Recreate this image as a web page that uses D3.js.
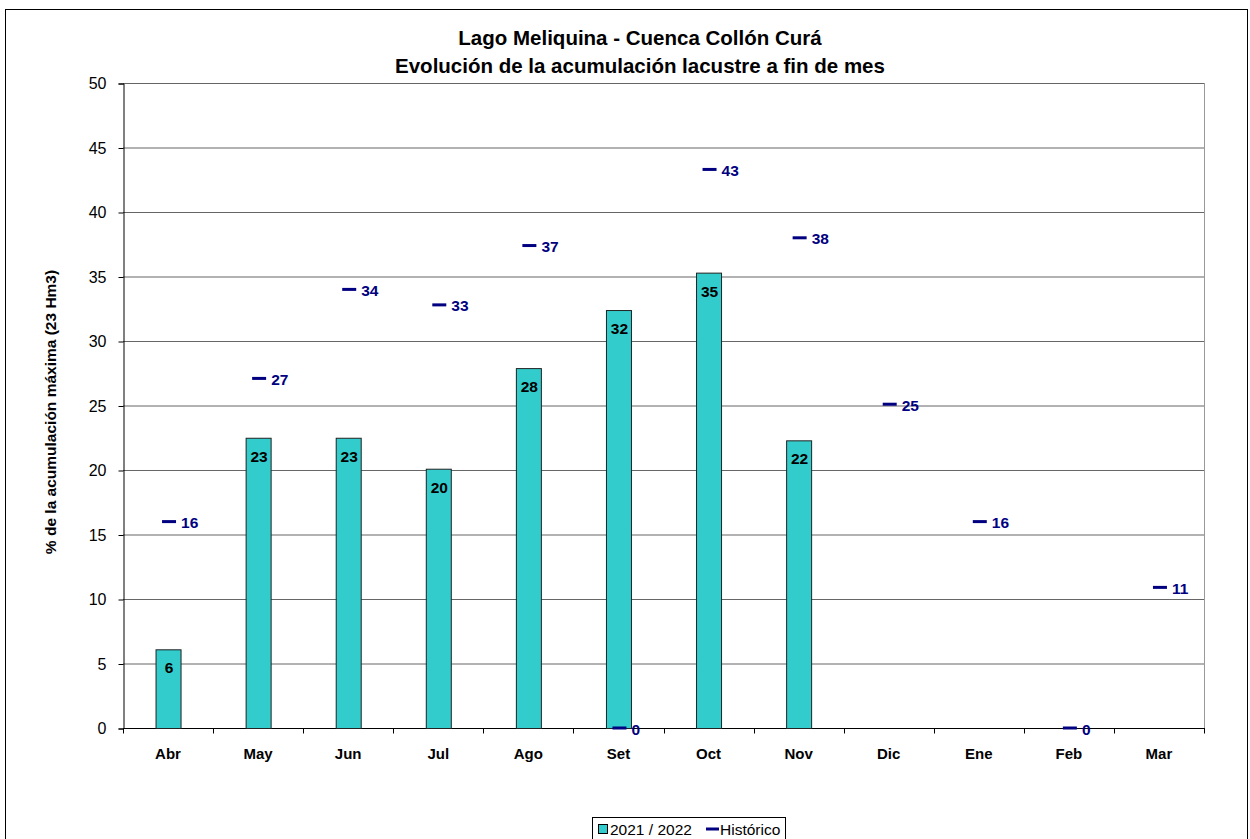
<!DOCTYPE html>
<html><head><meta charset="utf-8">
<script src="https://cdn.jsdelivr.net/npm/d3@7"></script>
<style>body{margin:0;background:#fff}svg{display:block}text{font-family:"Liberation Sans",Arial,sans-serif}</style>
</head><body>
<script>
const months = ["Abr","May","Jun","Jul","Ago","Set","Oct","Nov","Dic","Ene","Feb","Mar"];
const current = [6.1, 22.5, 22.5, 20.1, 27.9, 32.4, 35.3, 22.3, null, null, null, null];
const historico = [16.0, 27.1, 34.0, 32.8, 37.4, 0, 43.3, 38.0, 25.1, 16.0, 0, 10.9];
const yTicks = [0,5,10,15,20,25,30,35,40,45,50];
const titleLines = ["Lago Meliquina - Cuenca Collón Curá","Evolución de la acumulación lacustre a fin de mes"];
const yLabel = "% de la acumulación máxima (23 Hm3)";
const seriesNames = ["2021 / 2022","Histórico"];

const W=1250,H=839;
const svg=d3.select("body").append("svg").attr("width",W).attr("height",H);
svg.append("rect").attr("x",5.5).attr("y",9.5).attr("width",1242).attr("height",840).attr("fill","#fff").attr("stroke","#000").attr("stroke-width",1);

const L=123,R=1204,T=83,B=728;
const x=d3.scaleBand().domain(months).range([L,R]);
const y=d3.scaleLinear().domain([0,50]).range([B,T]);

// gridlines
svg.append("g").selectAll("line").data(yTicks.filter(d=>d>0)).join("line")
  .attr("x1",L).attr("x2",R).attr("y1",d=>y(d)+0.5).attr("y2",d=>y(d)+0.5)
  .attr("stroke","#666").attr("stroke-width",1.2);
// right border of plot
svg.append("line").attr("x1",R+0.5).attr("x2",R+0.5).attr("y1",T).attr("y2",B).attr("stroke","#999");

// y axis
const ya=svg.append("g").attr("transform",`translate(${L+0.5},0.5)`)
  .call(d3.axisLeft(y).tickValues(yTicks).tickSize(5).tickPadding(12));
ya.select(".domain").attr("stroke","#000");
ya.selectAll(".tick line").attr("stroke","#000");
ya.selectAll("text").attr("font-size",16).attr("fill","#000").attr("font-family","Liberation Sans, Arial, sans-serif");

// x axis
const xa=svg.append("g").attr("transform",`translate(0,${B+0.5})`);
xa.append("line").attr("x1",L).attr("x2",R+1).attr("stroke","#000");
const bounds=months.map(m=>x(m)).concat([R]);
xa.selectAll(".tk").data(bounds).join("line").attr("class","tk")
  .attr("x1",d=>Math.round(d)+0.5).attr("x2",d=>Math.round(d)+0.5).attr("y1",0).attr("y2",5).attr("stroke","#000");
xa.selectAll(".lbl").data(months).join("text").attr("class","lbl")
  .attr("x",d=>x(d)+x.bandwidth()/2).attr("y",30).attr("text-anchor","middle")
  .attr("font-size",15).attr("font-weight","bold").text(d=>d);

// bars
const bw=25;
const bars=months.map((m,i)=>({m,v:current[i]})).filter(d=>d.v!=null);
svg.append("g").selectAll("rect").data(bars).join("rect")
  .attr("x",d=>x(d.m)+x.bandwidth()/2-bw/2+0.5).attr("y",d=>y(d.v)+0.5)
  .attr("width",bw).attr("height",d=>B-y(d.v))
  .attr("fill","#33CCCC").attr("stroke","#222").attr("stroke-width",1);
svg.append("g").selectAll("text").data(bars).join("text")
  .attr("x",d=>x(d.m)+x.bandwidth()/2+1).attr("y",d=>y(d.v)+24)
  .attr("text-anchor","middle").attr("font-size",15.5).attr("font-weight","bold").attr("fill","#000")
  .text(d=>Math.round(d.v));

// historic markers
const hist=months.map((m,i)=>({m,v:historico[i]}));
svg.append("g").selectAll("line").data(hist).join("line")
  .attr("x1",d=>x(d.m)+x.bandwidth()/2-6).attr("x2",d=>x(d.m)+x.bandwidth()/2+8)
  .attr("y1",d=>y(d.v)).attr("y2",d=>y(d.v)).attr("stroke","#000080").attr("stroke-width",3);
svg.append("g").selectAll("text").data(hist).join("text")
  .attr("x",d=>x(d.m)+x.bandwidth()/2+13).attr("y",d=>y(d.v)+6.5)
  .attr("font-size",15.5).attr("font-weight","bold").attr("fill","#000080")
  .text(d=>Math.round(d.v));

// title
svg.append("g").selectAll("text").data(titleLines).join("text")
  .attr("x",640).attr("y",(d,i)=>45+i*28).attr("text-anchor","middle")
  .attr("font-size",20.5).attr("font-weight","bold").text(d=>d);

// y label
svg.append("text").attr("transform","translate(56,412) rotate(-90)").attr("text-anchor","middle")
  .attr("font-size",15.5).attr("font-weight","bold").text(yLabel);

// legend
const lg=svg.append("g");
lg.append("rect").attr("x",592.5).attr("y",817.5).attr("width",193).attr("height",24).attr("fill","#fff").attr("stroke","#000");
lg.append("rect").attr("x",598.5).attr("y",824.5).attr("width",9).attr("height",9).attr("fill","#33CCCC").attr("stroke","#000");
lg.append("text").attr("x",610).attr("y",835).attr("font-size",15.5).text(seriesNames[0]);
lg.append("line").attr("x1",706).attr("x2",719).attr("y1",829).attr("y2",829).attr("stroke","#000080").attr("stroke-width",3);
lg.append("text").attr("x",720).attr("y",835).attr("font-size",15.5).text(seriesNames[1]);
</script>
</body></html>
